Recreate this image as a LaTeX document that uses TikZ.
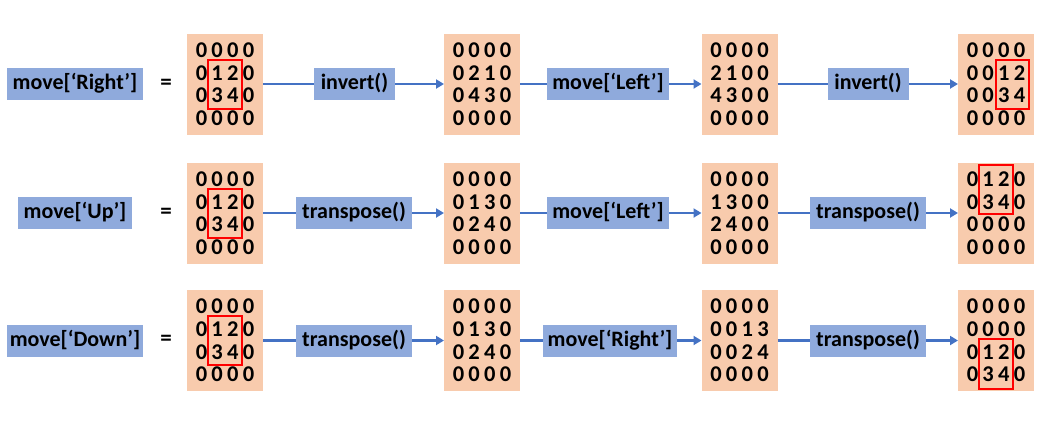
\documentclass[tikz,border=0pt]{standalone}
\usepackage{fontspec}
\setmainfont{Carlito}
\usetikzlibrary{arrows.meta,calc}
\definecolor{matfill}{HTML}{F8CBAD}
\definecolor{lblfill}{HTML}{8FAADC}
\definecolor{arrblue}{HTML}{4472C4}
\definecolor{redline}{HTML}{FF0000}
\newcommand\dg[4]{\makebox[15.7pt]{#1}\makebox[15.7pt]{#2}\makebox[15.7pt]{#3}\makebox[15.7pt]{#4}}
\newcommand\mkmat[6]{%
  \node[matbox] (#1) at (#2) {};
  \node[rowtxt] (#1-1) at ($(#1)+(0,-34)$) {\dg#3};
  \node[rowtxt] (#1-2) at ($(#1)+(0,-11.3)$) {\dg#4};
  \node[rowtxt] (#1-3) at ($(#1)+(0,11.3)$) {\dg#5};
  \node[rowtxt] (#1-4) at ($(#1)+(0,34)$) {\dg#6};
}
\begin{document}
\begin{tikzpicture}[x=1pt,y=-1pt,
  matbox/.style={fill=matfill,minimum width=76pt,minimum height=101pt,inner sep=0pt,outer sep=0pt},
  rowtxt/.style={inner sep=0pt,font=\bfseries\fontsize{22.5}{26}\selectfont},
  lbl/.style={fill=lblfill,font=\bfseries\fontsize{22}{26}\selectfont,inner xsep=3pt,inner ysep=0pt,
    minimum height=32pt,text height=16pt,text depth=5pt,outer sep=0pt},
  eqs/.style={font=\bfseries\fontsize{23}{26}\selectfont,inner sep=0pt},
  conn/.style={draw=arrblue,line width=2.5pt},
  arr/.style={conn,-{Triangle[length=8pt,width=9pt]}},
  redbox/.style={draw=redline,line width=2pt}]
\useasboundingbox (0,0) rectangle (1039,421);

% ---------- Row 1 ----------
\node[lbl,minimum width=136pt] (r1a) at (75,84) {move[‘Right’]};
\node[eqs] (r1eq) at (166,84) {=};
\mkmat{a1}{225,84}{0000}{0120}{0340}{0000}
\node[lbl,minimum width=81pt] (r1b) at (354.5,84) {invert()};
\mkmat{a2}{482,84}{0000}{0210}{0430}{0000}
\node[lbl,minimum width=122pt] (r1c) at (608,84) {move[‘Left’]};
\mkmat{a3}{739.5,84}{0000}{2100}{4300}{0000}
\node[lbl,minimum width=81pt] (r1d) at (868,84) {invert()};
\mkmat{a4}{996,84}{0000}{0012}{0034}{0000}
\draw[conn] (a1) -- (r1b);
\draw[arr] (r1b) -- (a2);
\draw[conn] (a2) -- (r1c);
\draw[arr] (r1c) -- (a3);
\draw[conn] (a3) -- (r1d);
\draw[arr] (r1d) -- (a4);
\draw[redbox] ($(a1)+(-17,-24.5)$) rectangle ($(a1)+(17,24.5)$);
\draw[redbox] ($(a4)+(-0.5,-24.5)$) rectangle ($(a4)+(33,24.5)$);

% ---------- Row 2 ----------
\node[lbl,minimum width=114pt] (r2a) at (75,213) {move[‘Up’]};
\node[eqs] (r2eq) at (166,213) {=};
\mkmat{b1}{225,213}{0000}{0120}{0340}{0000}
\node[lbl,minimum width=116pt] (r2b) at (354,213) {transpose()};
\mkmat{b2}{482,213}{0000}{0130}{0240}{0000}
\node[lbl,minimum width=122pt] (r2c) at (608,213) {move[‘Left’]};
\mkmat{b3}{739.5,213}{0000}{1300}{2400}{0000}
\node[lbl,minimum width=116pt] (r2d) at (868,213) {transpose()};
\mkmat{b4}{996,213}{0120}{0340}{0000}{0000}
\draw[conn] (b1) -- (r2b);
\draw[arr] (r2b) -- (b2);
\draw[conn] (b2) -- (r2c);
\draw[arr] (r2c) -- (b3);
\draw[conn] (b3) -- (r2d);
\draw[arr] (r2d) -- (b4);
\draw[redbox] ($(b1)+(-17,-24.5)$) rectangle ($(b1)+(17,24.5)$);
\draw[redbox] ($(b4)+(-17,-48.5)$) rectangle ($(b4)+(17,0.5)$);

% ---------- Row 3 ----------
\node[lbl,minimum width=136pt] (r3a) at (75,340.5) {move[‘Down’]};
\node[eqs] (r3eq) at (166,340.5) {=};
\mkmat{c1}{225,340.5}{0000}{0120}{0340}{0000}
\node[lbl,minimum width=116pt] (r3b) at (354,340.5) {transpose()};
\mkmat{c2}{482,340.5}{0000}{0130}{0240}{0000}
\node[lbl,minimum width=134pt] (r3c) at (610,340.5) {move[‘Right’]};
\mkmat{c3}{739.5,340.5}{0000}{0013}{0024}{0000}
\node[lbl,minimum width=116pt] (r3d) at (868,340.5) {transpose()};
\mkmat{c4}{996,340.5}{0000}{0000}{0120}{0340}
\draw[conn] (c1) -- (r3b);
\draw[arr] (r3b) -- (c2);
\draw[conn] (c2) -- (r3c);
\draw[arr] (r3c) -- (c3);
\draw[conn] (c3) -- (r3d);
\draw[arr] (r3d) -- (c4);
\draw[redbox] ($(c1)+(-17,-24.5)$) rectangle ($(c1)+(17,24.5)$);
\draw[redbox] ($(c4)+(-17,-2)$) rectangle ($(c4)+(17,48)$);
\end{tikzpicture}
\end{document}
